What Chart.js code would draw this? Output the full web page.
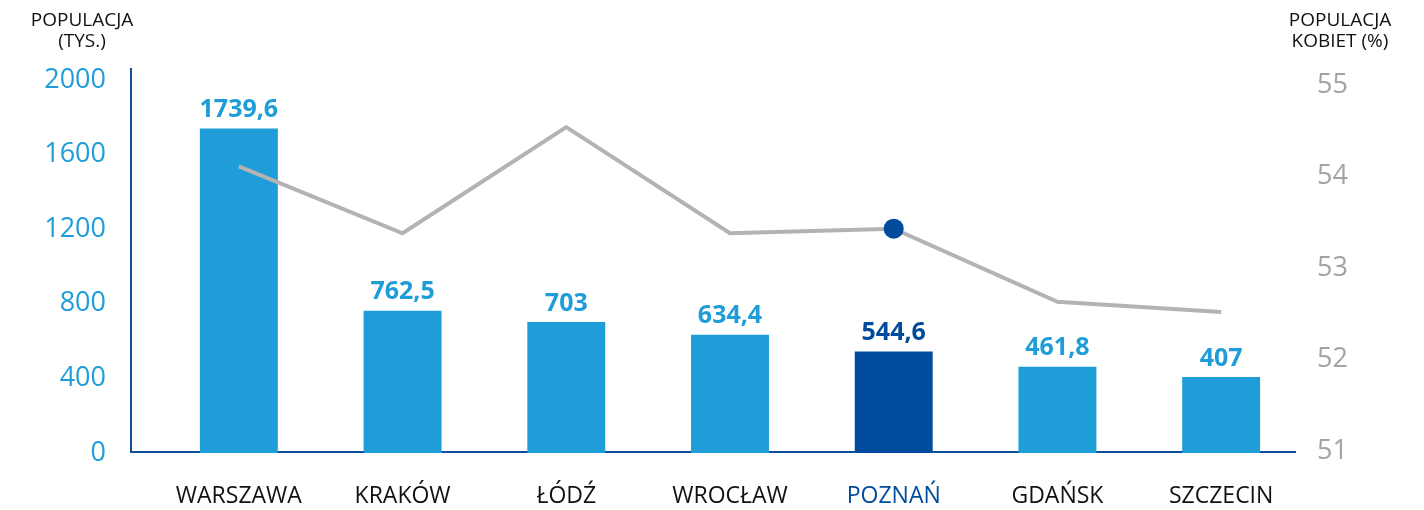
<!DOCTYPE html>
<html>
<head>
<meta charset="utf-8">
<script src="https://cdn.jsdelivr.net/npm/chart.js@4/dist/chart.umd.min.js"></script>
<style>
  body { margin: 0; background: #fff; overflow: hidden; }
  canvas { display: block; }
</style>
</head>
<body>
<canvas id="myChart" width="1424" height="510"></canvas>
<script>
// Data
const cities = ['WARSZAWA', 'KRAKÓW', 'ŁÓDŹ', 'WROCŁAW', 'POZNAŃ', 'GDAŃSK', 'SZCZECIN'];
const population = [1739.6, 762.5, 703, 634.4, 544.6, 461.8, 407];   // thousands
const womenShare = [54.11, 53.38, 54.54, 53.38, 53.43, 52.63, 52.52]; // percent
const leftTicks = [0, 400, 800, 1200, 1600, 2000];
const rightTicks = [51, 52, 53, 54, 55];
const highlight = 'POZNAŃ';

const LIGHT = '#1e9dd8';
const DARK = '#004b9b';
const AXIS = '#0d4f9f';
const FONT = "'Open Sans', 'Noto Sans', sans-serif";

const isHi = i => cities[i] === highlight;

// axis lines and titles
const decor = {
  id: 'decor',
  beforeDatasetsDraw(chart) {
    const { ctx, chartArea } = chart;
    ctx.save();
    ctx.strokeStyle = AXIS;
    ctx.lineWidth = 2;
    ctx.beginPath();
    ctx.moveTo(131, 68);
    ctx.lineTo(131, chartArea.bottom - 1);
    ctx.lineTo(1296, chartArea.bottom - 1);
    ctx.stroke();
    ctx.restore();
  },
  afterDraw(chart) {
    const { ctx } = chart;
    ctx.save();
    ctx.fillStyle = '#111';
    ctx.font = '19px ' + FONT;
    ctx.textAlign = 'center';
    ctx.textBaseline = 'middle';
    ctx.fillText('POPULACJA', 82, 21);
    ctx.fillText('(TYS.)', 82, 42);
    ctx.fillText('POPULACJA', 1340, 21);
    ctx.fillText('KOBIET (%)', 1340, 42);
    ctx.restore();
  }
};

// value labels above bars
const barLabels = {
  id: 'barLabels',
  afterDatasetsDraw(chart) {
    const { ctx } = chart;
    const meta = chart.getDatasetMeta(0);
    ctx.save();
    ctx.font = 'bold 25px ' + FONT;
    ctx.textAlign = 'center';
    ctx.textBaseline = 'bottom';
    meta.data.forEach((bar, i) => {
      ctx.fillStyle = isHi(i) ? DARK : LIGHT;
      ctx.fillText(String(population[i]).replace('.', ','), bar.x, bar.y - 6);
    });
    ctx.restore();
  }
};

new Chart(document.getElementById('myChart'), {
  data: {
    labels: cities,
    datasets: [
      {
        type: 'bar',
        data: population,
        yAxisID: 'y',
        order: 2,
        backgroundColor: cities.map((c, i) => isHi(i) ? DARK : LIGHT),
        categoryPercentage: 1,
        barPercentage: 0.476
      },
      {
        type: 'line',
        data: womenShare,
        yAxisID: 'y2',
        order: 1,
        borderColor: '#b3b3b3',
        borderWidth: 4,
        tension: 0,
        pointRadius: cities.map((c, i) => isHi(i) ? 10 : 0),
        pointBackgroundColor: DARK,
        pointBorderWidth: 0
      }
    ]
  },
  options: {
    responsive: false,
    animation: false,
    layout: { padding: { top: 80, left: 0, right: 0, bottom: 0 } },
    plugins: { legend: { display: false }, tooltip: { enabled: false } },
    scales: {
      x: {
        grid: { display: false, drawTicks: false },
        border: { display: false },
        ticks: {
          padding: 30,
          font: { family: FONT, size: 23 },
          color: ctx => isHi(ctx.index) ? DARK : '#111'
        },
        afterFit(axis) { axis.height = 57; }
      },
      y: {
        position: 'left',
        min: 0,
        max: 2000,
        grid: { display: false, drawTicks: false },
        border: { display: false },
        ticks: {
          padding: 51,
          font: { family: FONT, size: 27 },
          color: LIGHT,
          callback: v => String(v)
        },
        afterBuildTicks(axis) { axis.ticks = leftTicks.map(v => ({ value: v })); },
        afterFit(axis) {
          axis.width = 157;
          axis.paddingTop = 0;
          axis.paddingBottom = 0;
        }
      },
      y2: {
        position: 'right',
        min: 50.978,
        max: 55.055,
        grid: { display: false, drawTicks: false },
        border: { display: false },
        ticks: {
          padding: 14,
          font: { family: FONT, size: 27 },
          color: '#a3a3a3',
          callback: v => String(v)
        },
        afterBuildTicks(axis) { axis.ticks = rightTicks.map(v => ({ value: v })); },
        afterFit(axis) {
          axis.width = 121;
          axis.paddingTop = 0;
          axis.paddingBottom = 0;
        }
      }
    }
  },
  plugins: [decor, barLabels]
});
</script>
</body>
</html>
